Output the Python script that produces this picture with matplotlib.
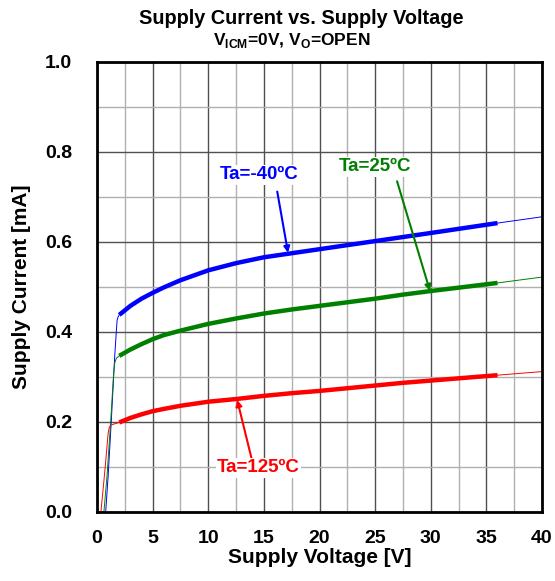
import numpy as np
import matplotlib.pyplot as plt
from matplotlib.ticker import MultipleLocator

plt.rcParams['font.family'] = ['Liberation Sans', 'DejaVu Sans']
plt.rcParams['font.weight'] = 'bold'

# start-up region (thin line)
v_start_m40 = [0.6, 0.78, 1.0, 1.3, 1.6, 1.8, 1.9, 2.0]
i_start_m40 = [0.0, 0.0, 0.08, 0.21, 0.35, 0.425, 0.434, 0.438]
v_start_25 = [0.5, 0.62, 0.9, 1.2, 1.5, 1.6, 1.75, 2.0]
i_start_25 = [0.0, 0.0, 0.08, 0.19, 0.31, 0.332, 0.342, 0.347]
v_start_125 = [0.2, 0.35, 0.7, 1.0, 1.1, 1.25, 1.6, 2.0]
i_start_125 = [0.0, 0.0, 0.09, 0.175, 0.188, 0.193, 0.196, 0.199]

# measured region (thick line)
v_run = [2.0, 2.5, 3.0, 4.0, 5.0, 6.0, 7.5, 10.0, 12.5, 15.0, 17.5, 20.0, 22.5,
         25.0, 27.5, 30.0, 33.0, 36.0]
i_run_m40 = [0.438, 0.448, 0.458, 0.474, 0.487, 0.499, 0.515, 0.537, 0.553, 0.566,
             0.575, 0.584, 0.593, 0.602, 0.611, 0.620, 0.631, 0.642]
i_run_25 = [0.347, 0.354, 0.361, 0.373, 0.384, 0.393, 0.403, 0.418, 0.430, 0.441,
            0.450, 0.458, 0.466, 0.474, 0.483, 0.491, 0.500, 0.509]
i_run_125 = [0.199, 0.204, 0.209, 0.217, 0.224, 0.229, 0.236, 0.245, 0.251, 0.258,
             0.264, 0.269, 0.275, 0.281, 0.287, 0.292, 0.298, 0.304]

# extrapolated tail (thin line)
v_tail = [36.0, 40.0]
i_tail_m40 = [0.642, 0.656]
i_tail_25 = [0.509, 0.522]
i_tail_125 = [0.304, 0.312]

series = [
    ('blue', v_start_m40, i_start_m40, i_run_m40, i_tail_m40),
    ('green', v_start_25, i_start_25, i_run_25, i_tail_25),
    ('red', v_start_125, i_start_125, i_run_125, i_tail_125),
]

fig = plt.figure(figsize=(5.55, 5.81), dpi=100)
ax = fig.add_axes([0.1748, 0.1188, 0.8018, 0.7745])

for c, v_s, i_s, i_r, i_t in series:
    ax.plot(v_s, i_s, color=c, lw=0.7)
    ax.plot(v_tail, i_t, color=c, lw=0.7)
    ax.plot(v_run, i_r, color=c, lw=3.2, solid_capstyle='butt')

ax.set_xlim(0, 40)
ax.set_ylim(0, 1.0)
ax.xaxis.set_major_locator(MultipleLocator(5))
ax.xaxis.set_minor_locator(MultipleLocator(2.5))
ax.yaxis.set_major_locator(MultipleLocator(0.2))
ax.yaxis.set_minor_locator(MultipleLocator(0.1))
ax.yaxis.set_major_formatter(plt.FuncFormatter(lambda v, p: f'{v:.1f}'))
ax.grid(which='major', color='#505050', lw=1.0)
ax.grid(which='minor', color='#b0b0b0', lw=1.0)
ax.set_axisbelow(True)
ax.tick_params(which='both', length=0, labelsize=14)
ax.tick_params(axis='y', pad=18)
ax.tick_params(axis='x', pad=13)
for s in ax.spines.values():
    s.set_linewidth(2)
    s.set_color('black')

ax.set_xlabel('Supply Voltage [V]', fontsize=15, fontweight='bold', labelpad=1)
ax.set_ylabel('Supply Current [mA]', fontsize=15, fontweight='bold', labelpad=10)

fig.text(0.543, 0.969, 'Supply Current vs. Supply Voltage', ha='center', va='center',
         fontsize=14.3, fontweight='bold')
fig.text(0.525, 0.930, r'V$_{\mathregular{ICM}}$=0V, V$_{\mathregular{O}}$=OPEN', ha='center',
         va='center', fontsize=12.5, fontweight='bold')

arrow = dict(arrowstyle='-|>', lw=1.5, mutation_scale=9, shrinkA=0, shrinkB=0)
lbl = dict(ha='center', va='center', fontsize=13.5, fontweight='bold',
           bbox=dict(fc='white', ec='none', pad=1))
ax.annotate('', xy=(17.17, 0.576), xytext=(16.2, 0.712), arrowprops=dict(arrow, color='blue'))
ax.text(14.6, 0.749, 'Ta=-40ºC', color='blue', **lbl)
ax.annotate('', xy=(29.93, 0.491), xytext=(26.97, 0.735), arrowprops=dict(arrow, color='green'))
ax.text(25.0, 0.767, 'Ta=25ºC', color='green', **lbl)
ax.annotate('', xy=(12.6, 0.249), xytext=(13.9, 0.118), arrowprops=dict(arrow, color='red'))
ax.text(14.5, 0.098, 'Ta=125ºC', color='red', **lbl)

fig.savefig('out.png', dpi=100)
